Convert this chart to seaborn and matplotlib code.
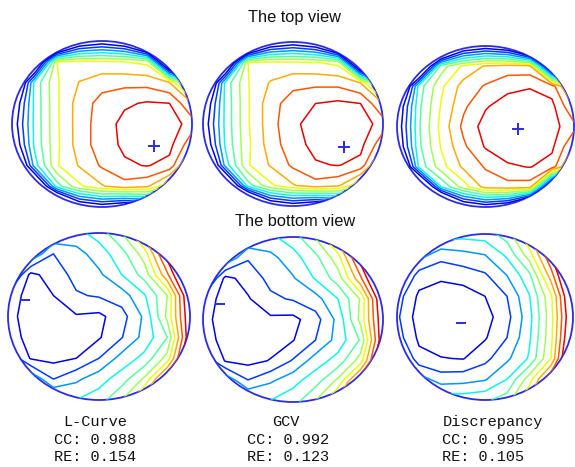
import numpy as np
import matplotlib
matplotlib.use('Agg')
import matplotlib.pyplot as plt
from matplotlib.patches import Ellipse
import seaborn as sns

sns.set_style('white')

# grid nodes (normalised, x to the right, y from top row to bottom row)
grid_u = [-1.0, -0.75, -0.5, -0.25, 0.0, 0.25, 0.5, 0.75, 1.0]
grid_v = [1.0, 0.75, 0.5, 0.25, 0.0, -0.25, -0.5, -0.75, -1.0]
levels = [1, 2, 3, 4, 5, 6, 7, 8, 9, 10]

# potential, top view
top_lcurve = [
    [-10, -9, -7, -1, 0, -1, -6, -8, -8],
    [-8, -3, 7.0, 7.15, 7.1, 7.0, 6.7, -4, -6],
    [-4, 4.3, 6.9, 8.05, 8.65, 8.7, 8.65, 8.0, 3.5],
    [-0.7, 4.25, 6.85, 8.5, 9.35, 9.85, 10.1, 10.0, 8.0],
    [0, 4.25, 6.85, 8.5, 9.5, 10.3, 10.6, 10.6, 9.5],
    [-0.7, 4.2, 6.8, 8.5, 9.5, 10.2, 10.7, 10.3, 8.3],
    [-4, 3.5, 6.9, 8.1, 9.15, 9.85, 10.05, 9.7, 6],
    [-8, -3, 4.5, 6.8, 7.9, 8.6, 8.2, 6, -2],
    [-10, -9, -7, -1, 0, -1, 0, -2, -6],
]
top_gcv = [
    [-10, -9, -7, -1, 0, -1, -6, -8, -8],
    [-8, -3, 7.0, 7.2, 7.15, 7.05, 6.7, -4, -6],
    [-4, 4.4, 6.95, 8.1, 8.7, 8.75, 8.7, 8.0, 3.5],
    [-0.7, 4.3, 6.9, 8.6, 9.5, 10.0, 10.2, 10.0, 8.0],
    [0, 4.3, 6.9, 8.6, 9.8, 10.4, 10.6, 10.6, 9.5],
    [-0.7, 4.2, 6.8, 8.5, 9.6, 10.3, 10.7, 10.3, 8.3],
    [-4, 3.5, 6.9, 8.1, 9.2, 9.9, 10.05, 9.7, 6],
    [-8, -3, 4.5, 6.8, 7.9, 8.6, 8.2, 6, -2],
    [-10, -9, -7, -1, 0, -1, 0, -2, -6],
]
top_discrep = [
    [-10, -9, -7, -1, 0, -1, -6, -8, -8],
    [-8, -4, 5.5, 7.2, 8.1, 8.4, 8.3, -2, -6],
    [-4, 4.5, 6.8, 8.4, 9.1, 9.7, 9.9, 9.5, 6],
    [-0.5, 4.8, 7.1, 8.8, 9.9, 10.5, 10.7, 10.3, 8],
    [0, 4.9, 7.33, 9.25, 10.4, 10.8, 10.8, 10.4, 9.3],
    [-0.5, 4.8, 7.1, 8.8, 10.1, 10.6, 10.7, 10.2, 8],
    [-4, 4.3, 6.6, 8.2, 9.1, 9.85, 10.05, 9.6, 6],
    [-8, -4, 4.0, 6.5, 8.4, 8.6, 8.5, -2, -6],
    [-10, -9, -7, -1, 0, -1, -6, -8, -8],
]

# bottom view
bot_lcurve = [
    [7, 5, 4.0, 3.7, 4.4, 6.0, 8.5, 12, 15],
    [6, 4, 2.0, 2.6, 3.5, 4.6, 6.5, 10.5, 14],
    [4, 0.7, 1.5, 2.3, 2.8, 4.0, 5.4, 8.8, 13],
    [1.7, 0.5, 1.0, 1.9, 2.1, 2.5, 3.9, 6.0, 11.5],
    [1.5, 0.3, 0.5, 0.9, 0.75, 1.6, 3.2, 6.25, 11],
    [1.7, 0.5, 0.4, 0.6, 0.9, 1.95, 3.35, 5.0, 11],
    [3, 0.9, 0.7, 1.0, 2.0, 3.4, 4.3, 6.4, 12],
    [6, 4, 2.0, 2.8, 3.6, 4.5, 6.2, 10, 14],
    [7, 5.5, 4.5, 4.0, 4.5, 6.0, 8.5, 12, 15],
]
bot_gcv = [
    [7, 5, 4.0, 3.8, 4.5, 6.1, 8.5, 12, 15],
    [6, 4, 2.1, 2.7, 3.6, 4.7, 6.6, 10.5, 14],
    [4, 0.7, 1.4, 2.3, 2.9, 4.1, 5.5, 8.8, 13],
    [1.7, 0.5, 0.9, 1.8, 2.1, 2.6, 4.0, 6.1, 11.5],
    [1.5, 0.3, 0.4, 0.8, 0.7, 1.6, 3.3, 6.3, 11],
    [1.7, 0.5, 0.4, 0.6, 0.95, 2.0, 3.4, 5.1, 11],
    [3, 0.9, 0.7, 1.05, 2.1, 3.5, 4.4, 6.5, 12],
    [6, 4, 2.1, 2.9, 3.7, 4.6, 6.3, 10, 14],
    [7, 5.5, 4.5, 4.1, 4.6, 6.1, 8.5, 12, 15],
]
bot_discrep = [
    [7, 5.5, 4.6, 4.4, 4.5, 5.5, 8, 12, 15],
    [6, 3.5, 2.4, 2.7, 3.0, 4.2, 6.5, 10, 14],
    [4, 1.5, 1.2, 1.45, 1.85, 3.0, 4.7, 8.5, 13],
    [2.5, 0.8, 0.5, 0.5, 1.0, 2.0, 3.9, 6.8, 12],
    [2.2, 0.5, 0.3, 0.3, 0.6, 1.67, 3.6, 6.6, 11.5],
    [2.5, 0.8, 0.4, 0.5, 0.9, 2.0, 3.8, 6.7, 12],
    [4, 1.3, 1.05, 0.95, 1.7, 2.8, 4.1, 7.0, 13],
    [6, 3.5, 2.5, 2.6, 2.9, 4.0, 6.5, 10, 14],
    [7, 5.5, 4.6, 4.6, 4.8, 5.5, 8, 12, 15],
]

# extremum markers (+ maximum on top view, - minimum on bottom view)
top_max_u = [0.58, 0.57, 0.37]
top_max_v = [-0.27, -0.28, -0.03]
bot_min_u = [-0.81, -0.81, -0.27]
bot_min_v = [0.20, 0.19, -0.07]

methods = ['L-Curve', 'GCV', 'Discrepancy']
cc_vals = [0.988, 0.992, 0.995]
re_vals = [0.154, 0.123, 0.105]

# ---- layout (pixel boxes of each map: x0, y0, x1, y1) ----
W, H = 575, 467
top_boxes = [(12, 41, 192, 207), (203, 42, 383, 206), (397, 46, 574, 207)]
bot_boxes = [(8, 233, 190, 400), (203, 237, 383, 402), (397, 234, 573, 400)]
name_x = [95, 286, 492.5]
stat_x = [95, 288, 483]

# jet colours, one per level (same spacing seaborn would use)
line_colors = plt.get_cmap('jet')(np.linspace(1, len(levels), len(levels)) / (len(levels) + 1))
edge_blue = '#2b2be6'

fig = plt.figure(figsize=(W / 100, H / 100), dpi=100)


def draw_map(box, Z, mu, mv, mk, msize):
    x0, y0, x1, y1 = box
    ax = fig.add_axes([x0 / W, 1 - y1 / H, (x1 - x0) / W, (y1 - y0) / H])
    cs = ax.contour(grid_u, grid_v, np.array(Z), levels=levels,
                    colors=line_colors, linewidths=1.1)
    clip = Ellipse((0, 0), 2, 2, transform=ax.transData)
    cs.set_clip_path(clip)
    ax.add_patch(Ellipse((0, 0), 2, 2, fill=False, ec=edge_blue, lw=1.3,
                         clip_on=False))
    ax.plot([mu], [mv], marker=mk, color=edge_blue, markersize=msize,
            mew=1.4, ls='none')
    ax.set_xlim(-1, 1)
    ax.set_ylim(-1, 1)
    ax.axis('off')
    return ax


for i, Z in enumerate([top_lcurve, top_gcv, top_discrep]):
    draw_map(top_boxes[i], Z, top_max_u[i], top_max_v[i], '+', 9)
for i, Z in enumerate([bot_lcurve, bot_gcv, bot_discrep]):
    draw_map(bot_boxes[i], Z, bot_min_u[i], bot_min_v[i], '_', 7)

title_font = dict(family='Liberation Sans', size=11.8, color='#111111')
fig.text(295 / W, 1 - 22 / H, 'The top view', ha='center', va='baseline', **title_font)
fig.text(295 / W, 1 - 226.5 / H, 'The bottom view', ha='center', va='baseline', **title_font)

mono = dict(family='Liberation Mono', size=11, color='#111111')
for i in range(3):
    fig.text(name_x[i] / W, 1 - 426 / H, methods[i], ha='center', va='baseline', **mono)
    fig.text(stat_x[i] / W, 1 - 443.5 / H, 'CC: {:.3f}'.format(cc_vals[i]),
             ha='center', va='baseline', **mono)
    fig.text(stat_x[i] / W, 1 - 461 / H, 'RE: {:.3f}'.format(re_vals[i]),
             ha='center', va='baseline', **mono)

fig.savefig('out.png', dpi=100, facecolor='white')
